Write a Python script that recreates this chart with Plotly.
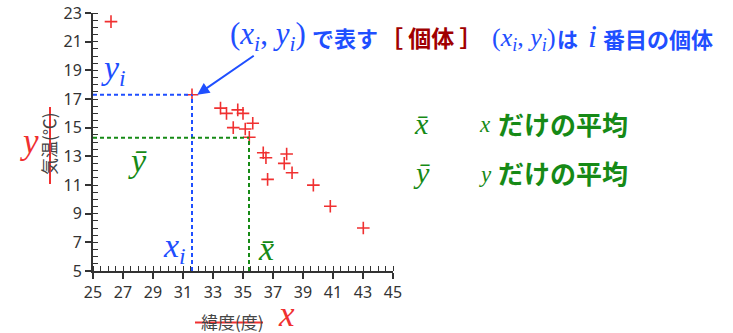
import plotly.graph_objects as go

# data (latitude [deg], temperature [°C])
lat = [26.2, 31.6, 33.5, 33.9, 34.65, 35.0, 34.35, 35.15, 35.65, 35.42,
       36.35, 36.53, 37.91, 37.75, 38.27, 36.64, 39.69, 40.82, 43.02]
temp = [22.4, 17.3, 16.36, 16.0, 16.24, 16.0, 15.0, 14.91, 15.31, 14.33,
        13.25, 12.9, 13.16, 12.51, 11.85, 11.39, 10.99, 9.52, 8.0]
xi, yi = 31.6, 17.3          # highlighted individual
xbar, ybar = 35.4, 14.3      # means shown
x_ticks = list(range(25, 46, 2))
y_ticks = list(range(5, 24, 2))

BLUE = "#1f4fff"
GREEN = "#168a16"
RED = "#f03030"
DRED = "#a00000"
SERIF = "Liberation Serif, DejaVu Serif, serif"
JP = "Noto Sans CJK JP, Noto Sans, sans-serif"

L, R, T, B = 93, 340, 13, 62
W, H = 733, 333
PW, PH = W - L - R, H - T - B


def P(px, py):
    return (px - L) / PW, (H - B - py) / PH


fig = go.Figure()
fig.add_trace(go.Scatter(x=lat, y=temp, mode="markers",
                         marker=dict(symbol="cross-thin", size=9,
                                     line=dict(color=RED, width=1.6), color=RED),
                         showlegend=False, hoverinfo="x+y"))

dash = "4px,3px"
# blue guide lines
fig.add_shape(type="line", x0=x_ticks[0], x1=xi, y0=yi, y1=yi,
              line=dict(color=BLUE, width=2, dash=dash))
fig.add_shape(type="line", x0=xi, x1=xi, y0=y_ticks[0], y1=yi,
              line=dict(color=BLUE, width=2, dash=dash))
# green guide lines
fig.add_shape(type="line", x0=x_ticks[0], x1=xbar, y0=ybar, y1=ybar,
              line=dict(color=GREEN, width=2, dash=dash))
fig.add_shape(type="line", x0=xbar, x1=xbar, y0=y_ticks[0], y1=ybar,
              line=dict(color=GREEN, width=2, dash=dash))

# red strike lines through axis titles
x0, y0 = P(50, 107); x1, y1 = P(50, 184)
fig.add_shape(type="line", xref="paper", yref="paper", x0=x0, x1=x1, y0=y0, y1=y1,
              line=dict(color=RED, width=2))
x0, y0 = P(195, 322.5); x1, y1 = P(263, 322.5)
fig.add_shape(type="line", xref="paper", yref="paper", x0=x0, x1=x1, y0=y0, y1=y1,
              line=dict(color=RED, width=2))

ann = []


def txt(px, py, text, size, color, family, xanchor="center"):
    ax_, ay_ = P(px, py)
    ann.append(dict(xref="paper", yref="paper", x=ax_, y=ay_, text=text,
                    showarrow=False, xanchor=xanchor, yanchor="middle",
                    font=dict(size=size, color=color, family=family)))


xi_html = "<i>x</i><sub><i>i</i></sub>"
yi_html = "<i>y</i><sub><i>i</i></sub>"

txt(228, 36, "(" + xi_html + ", " + yi_html + ")", 31, BLUE, SERIF, "left")
txt(310, 37, "<b>で表す</b>", 22, BLUE, JP, "left")
txt(378, 37, "<b>［ 個体 ］</b>", 23, DRED, JP, "left")
txt(490, 39, "(" + xi_html + ", " + yi_html + ")", 26, BLUE, SERIF, "left")
txt(555, 38, "<b>は</b>", 21, BLUE, JP, "left")
txt(586, 36, "<i>i</i>", 32, BLUE, SERIF, "left")
txt(601, 38, "<b>番目の個体</b>", 22, BLUE, JP, "left")

txt(113, 70, yi_html, 34, BLUE, SERIF)
txt(137, 160, "<i>y\u0304</i>", 34, GREEN, SERIF)
txt(174, 248, xi_html, 34, BLUE, SERIF)
txt(266, 248, "<i>x\u0304</i>", 34, GREEN, SERIF)

txt(421, 123, "<i>x\u0304</i>", 30, GREEN, SERIF)
txt(477, 124, "<i>x</i>", 23, GREEN, SERIF, "left")
txt(496, 123, "<b>だけの平均</b>", 26, GREEN, JP, "left")
txt(421, 172, "<i>y\u0304</i>", 30, GREEN, SERIF)
txt(477, 174, "<i>y</i>", 23, GREEN, SERIF, "left")
txt(496, 172, "<b>だけの平均</b>", 26, GREEN, JP, "left")

# axis titles
ax_, ay_ = P(48, 144)
ann.append(dict(xref="paper", yref="paper", x=ax_, y=ay_, text="気温(℃)",
                showarrow=False, textangle=-90, xanchor="center", yanchor="middle",
                font=dict(size=17, color="#444444", family=JP)))
txt(232, 321, "緯度(度)", 17, "#444444", JP)
txt(29, 141, "<i>y</i>", 35, RED, SERIF)
txt(286, 314, "<i>x</i>", 35, RED, SERIF)

# arrow
ann.append(dict(x=xi + 0.35, y=yi, xref="x", yref="y", ax=58, ay=-40,
                axref="pixel", ayref="pixel", text="", showarrow=True,
                arrowhead=2, arrowsize=1.2, arrowwidth=2, arrowcolor=BLUE))

fig.update_layout(
    width=W, height=H, margin=dict(l=L, r=R, t=T, b=B, autoexpand=False),
    plot_bgcolor="white", paper_bgcolor="white",
    annotations=ann,
    xaxis=dict(range=[x_ticks[0], x_ticks[-1]], tickvals=x_ticks, ticktext=[str(v) for v in x_ticks],
               showgrid=False, zeroline=False, showline=True, linecolor="#333333", linewidth=2,
               ticks="outside", ticklen=6, tickwidth=1.5, tickcolor="#333333",
               tickfont=dict(size=16, color="#333333", family="Noto Sans, sans-serif"),
               minor=dict(dtick=0.5, tick0=25, ticks="inside", ticklen=5, tickwidth=1, tickcolor="#333333"),
               fixedrange=True),
    yaxis=dict(range=[y_ticks[0], y_ticks[-1]], tickvals=y_ticks, ticktext=[str(v) for v in y_ticks],
               showgrid=False, zeroline=False, showline=True, linecolor="#333333", linewidth=2,
               ticks="outside", ticklen=6, tickwidth=1.5, tickcolor="#333333",
               tickfont=dict(size=16, color="#333333", family="Noto Sans, sans-serif"),
               minor=dict(dtick=0.5, tick0=5, ticks="inside", ticklen=5, tickwidth=1, tickcolor="#333333"),
               fixedrange=True),
)

fig.write_html("out.html", config={"displayModeBar": False},
               post_script="document.body.style.margin='0px';document.body.style.overflow='hidden';")
